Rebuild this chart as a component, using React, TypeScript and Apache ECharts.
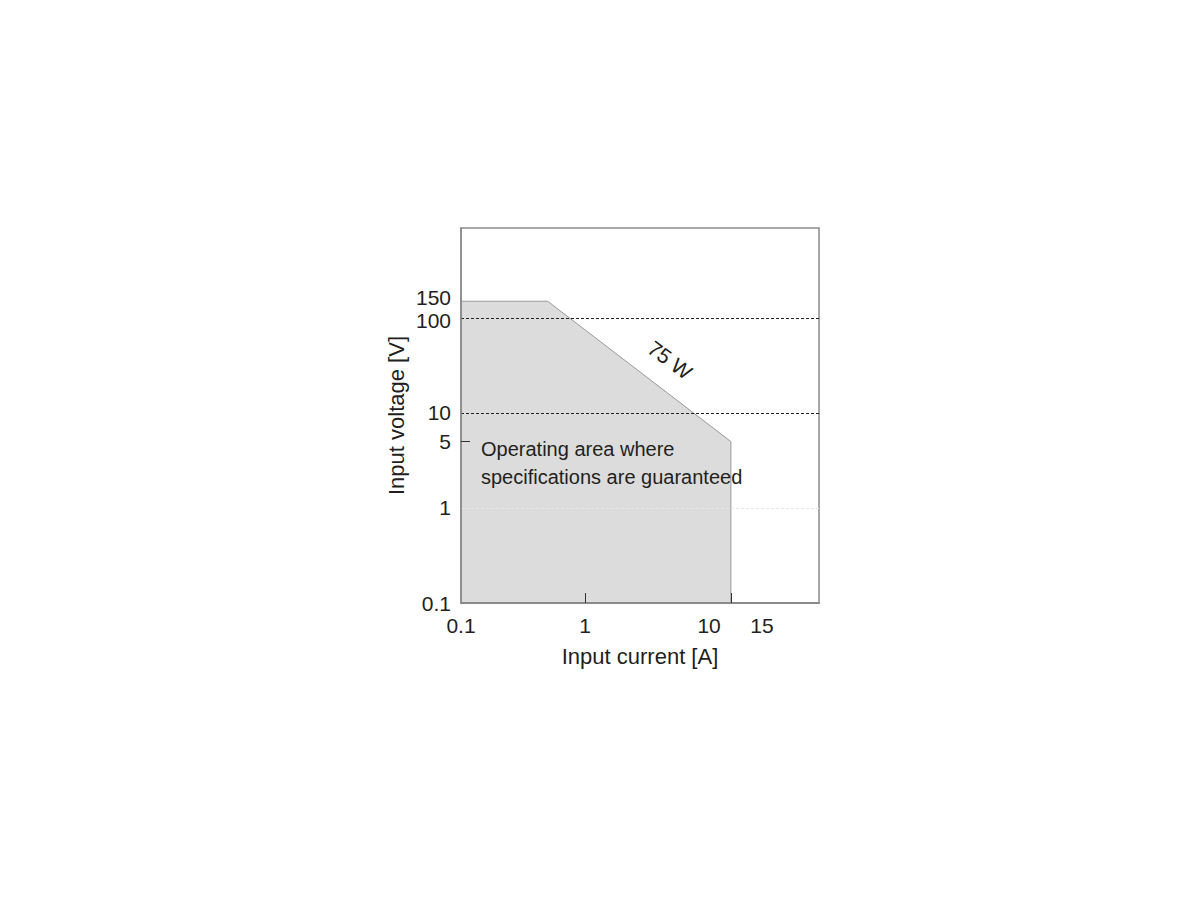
import React, { useEffect, useRef } from "react";
import * as echarts from "echarts";

// Operating area boundary: [current A, voltage V]
const areaBoundary: [number, number][] = [
  [0.1, 150],
  [0.5, 150],
  [15, 5],
  [15, 0.1],
];
const xTickLabels = [0.1, 1, 10, 15];
const xTickMarks = [1, 15];
const yTickLabels = [0.1, 1, 5, 10, 100];
const yTopLabels = [150];
const yTickMarks = [5];
const dashedLevels = [100, 10];
const faintLevels = [1];
const powerLabel = "75 W";
const areaLabel = ["Operating area where", "specifications are guaranteed"];

const FONT = "'Liberation Sans', Arial, Helvetica, sans-serif";
const TEXT = "#231f20";
const Y_MIN = 0.1;
const Y_MAX = 885;

export default function App() {
  const ref = useRef<HTMLDivElement>(null);
  useEffect(() => {
    if (!ref.current) return;
    const chart = echarts.init(ref.current, undefined, { renderer: "svg" });
    const richBase = { fontSize: 21, color: TEXT, fontFamily: FONT };
    const yLabelStyle = {
      hideOverlap: false,
      fontSize: 21,
      color: TEXT,
      fontFamily: FONT,
      margin: 10,
      rich: {
        dn: { ...richBase, padding: [5, 0, 0, 0] },
        up: { ...richBase, padding: [0, 0, 8, 0] },
      },
    };
    chart.setOption({
      animation: false,
      backgroundColor: "#ffffff",
      textStyle: { fontFamily: FONT },
      grid: {
        left: 461,
        right: 382,
        top: 228,
        bottom: 298,
        show: true,
        borderColor: "#8a8a8a",
        borderWidth: 1.5,
        backgroundColor: "transparent",
        z: 5,
      },
      xAxis: {
        type: "log",
        min: 0.1,
        max: 77,
        name: "Input current [A]",
        nameLocation: "middle",
        nameGap: 42,
        nameTextStyle: { fontSize: 22, color: TEXT, fontFamily: FONT },
        axisLine: { show: true, lineStyle: { color: "#8a8a8a", width: 2 } },
        axisTick: {
          show: true,
          inside: true,
          length: 10,
          customValues: xTickMarks,
          lineStyle: { color: "#333", width: 1 },
        },
        axisLabel: {
          customValues: xTickLabels,
          hideOverlap: false,
          fontSize: 21,
          color: TEXT,
          fontFamily: FONT,
          margin: 12,
          formatter: (v: number) => (v === 15 ? "{s|15}" : String(v)),
          rich: {
            s: { ...richBase, padding: [0, 0, 0, 62] },
          },
        },
        splitLine: { show: false },
        z: 6,
      },
      yAxis: [
        {
          type: "log",
          min: Y_MIN,
          max: Y_MAX,
          name: "Input voltage [V]",
          nameLocation: "middle",
          nameGap: 54,
          nameTextStyle: { fontSize: 22, color: TEXT, fontFamily: FONT },
          axisLine: { show: true, lineStyle: { color: "#8a8a8a", width: 1.5 } },
          axisTick: {
            show: true,
            inside: true,
            length: 9,
            customValues: yTickMarks,
            lineStyle: { color: "#333", width: 1 },
          },
          axisLabel: {
            ...yLabelStyle,
            customValues: yTickLabels,
            formatter: (v: number) => (v === 100 ? "{dn|100}" : String(v)),
          },
          splitLine: { show: false },
          z: 6,
        },
        {
          type: "log",
          min: Y_MIN,
          max: Y_MAX,
          position: "left",
          offset: 0,
          axisLine: { show: false },
          axisTick: { show: false },
          axisLabel: {
            ...yLabelStyle,
            customValues: yTopLabels,
            formatter: (v: number) => `{up|${v}}`,
          },
          splitLine: { show: false },
          z: 6,
        },
      ],
      series: [
        {
          type: "line",
          data: areaBoundary,
          symbol: "none",
          lineStyle: { color: "#9a9a9a", width: 1 },
          areaStyle: { color: "#dcdcdc", opacity: 1, origin: "start" },
          z: 1,
          silent: true,
        },
        {
          type: "line",
          data: [],
          z: 3,
          silent: true,
          markLine: {
            silent: true,
            symbol: "none",
            label: { show: false },
            data: [
              ...dashedLevels.map((v) => ({
                yAxis: v,
                lineStyle: { color: "#222", width: 1, type: [3, 2] },
              })),
              ...faintLevels.map((v) => ({
                yAxis: v,
                lineStyle: { color: "#e6e6e6", width: 1, type: [3, 2] },
              })),
            ],
          },
        },
      ],
      graphic: [
        {
          type: "text",
          x: 670,
          y: 360,
          rotation: -0.64,
          style: {
            text: powerLabel,
            fontSize: 21,
            fill: TEXT,
            fontFamily: FONT,
            align: "center",
            verticalAlign: "middle",
          },
          z: 10,
        },
        {
          type: "text",
          x: 481,
          y: 435,
          style: {
            text: areaLabel.join("\n"),
            fontSize: 20,
            lineHeight: 28,
            fill: TEXT,
            fontFamily: FONT,
            align: "left",
            verticalAlign: "top",
          },
          z: 10,
        },
      ],
    });
    return () => chart.dispose();
  }, []);
  return (
    <div
      ref={ref}
      style={{ position: "fixed", left: 0, top: 0, width: 1201, height: 901 }}
    />
  );
}
